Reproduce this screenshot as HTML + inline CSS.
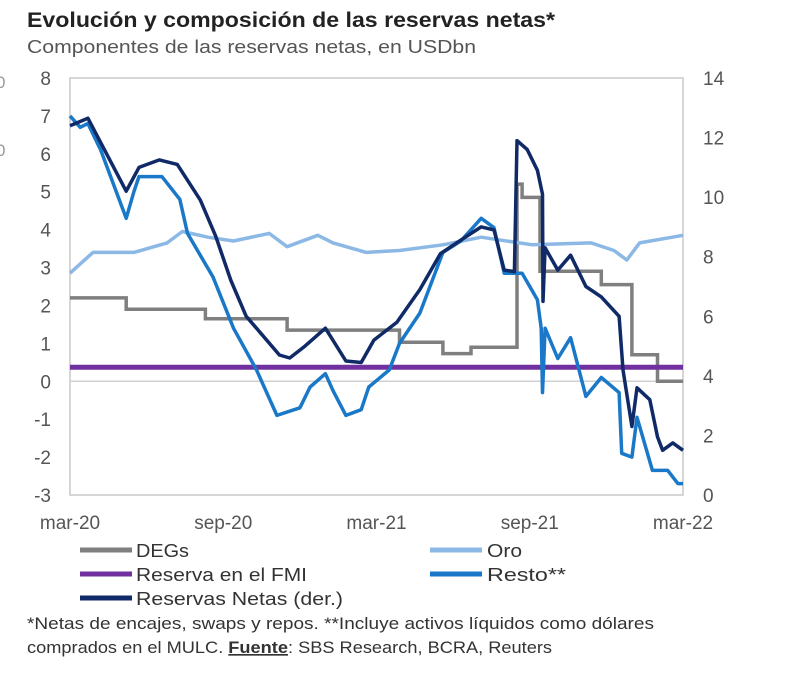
<!DOCTYPE html>
<html><head><meta charset="utf-8"><style>
body{margin:0;background:#fff;width:800px;height:682px;overflow:hidden;font-family:"Liberation Sans",sans-serif;}
svg text{font-family:"Liberation Sans",sans-serif;}
</style></head><body>
<svg id="c" width="800" height="682">
<text x="27" y="27" font-size="21" font-weight="bold" fill="#222" textLength="528" lengthAdjust="spacingAndGlyphs">Evolución y composición de las reservas netas*</text>
<text x="27" y="53" font-size="18" fill="#555" textLength="449" lengthAdjust="spacingAndGlyphs">Componentes de las reservas netas, en USDbn</text>
<text x="-4" y="88" font-size="17" fill="#999">0</text>
<text x="-4" y="156" font-size="17" fill="#999">0</text>
<g id="plot"></g>
<g>
<line x1="80" y1="550" x2="132" y2="550" stroke="#7f7f7f" stroke-width="5"/>
<text x="136" y="557" font-size="18.5" fill="#333" textLength="53" lengthAdjust="spacingAndGlyphs">DEGs</text>
<line x1="430" y1="550" x2="482" y2="550" stroke="#8cb8e6" stroke-width="5"/>
<text x="487" y="557" font-size="18.5" fill="#333" textLength="35" lengthAdjust="spacingAndGlyphs">Oro</text>
<line x1="80" y1="574" x2="132" y2="574" stroke="#7030a0" stroke-width="5"/>
<text x="136" y="581" font-size="18.5" fill="#333" textLength="171" lengthAdjust="spacingAndGlyphs">Reserva en el FMI</text>
<line x1="430" y1="574" x2="482" y2="574" stroke="#1a78c8" stroke-width="5"/>
<text x="487" y="581" font-size="18.5" fill="#333" textLength="79" lengthAdjust="spacingAndGlyphs">Resto**</text>
<line x1="80" y1="598" x2="132" y2="598" stroke="#0f2a66" stroke-width="5"/>
<text x="136" y="605" font-size="18.5" fill="#333" textLength="207" lengthAdjust="spacingAndGlyphs">Reservas Netas (der.)</text>
</g>
<text x="27" y="629" font-size="16.5" fill="#333" textLength="627" lengthAdjust="spacingAndGlyphs">*Netas de encajes, swaps y repos. **Incluye activos líquidos como dólares</text>
<text x="27" y="653" font-size="16.5" fill="#333" textLength="525" lengthAdjust="spacingAndGlyphs">comprados en el MULC. <tspan font-weight="bold" text-decoration="underline">Fuente</tspan>: SBS Research, BCRA, Reuters</text>
</svg>
<script>
const xLabels=["mar-20","sep-20","mar-21","sep-21","mar-22"];
const leftTicks=[8,7,6,5,4,3,2,1,0,-1,-2,-3];
const rightTicks=[14,12,10,8,6,4,2,0];
const fmiValue=0.37;
const degsMonths=[0,2.2,5.3,8.5,12.9,14.6,15.7,17.5,17.7,18.4,20.8,22.0,23.0];
const degsValues=[2.2,1.9,1.65,1.35,1.03,0.73,0.9,5.2,4.85,2.9,2.55,0.7,0.0];
const oroMonths=[0,0.9,2.5,3.8,4.4,5.4,6.4,7.8,8.5,9.7,10.3,11.6,12.9,14.6,16.1,18.1,20.4,21.3,21.8,22.3,24];
const oroValues=[2.85,3.4,3.4,3.65,3.95,3.8,3.7,3.9,3.55,3.85,3.65,3.4,3.45,3.6,3.8,3.6,3.65,3.45,3.2,3.65,3.85];
const restoMonths=[0,0.4,0.7,1.2,2.2,2.5,2.7,3.6,4.3,4.6,5.6,6.4,7.3,8.1,9.0,9.4,10.0,10.3,10.8,11.4,11.7,12.5,12.9,13.7,14.6,15.3,16.1,16.6,17.0,17.7,18.3,18.45,18.5,18.6,19.1,19.6,20.2,20.8,21.5,21.6,22.0,22.2,22.8,23.4,23.8,24];
const restoValues=[7.0,6.7,6.8,6.1,4.3,5.0,5.4,5.4,4.8,3.9,2.75,1.4,0.3,-0.9,-0.7,-0.15,0.2,-0.25,-0.9,-0.75,-0.15,0.3,1.0,1.8,3.4,3.7,4.3,4.05,2.85,2.85,2.15,1.4,-0.3,1.4,0.6,1.15,-0.4,0.1,-0.3,-1.9,-2.0,-0.95,-2.35,-2.35,-2.7,-2.7];
const netasMonths=[0,0.7,2.2,2.7,3.5,4.2,5.1,5.7,6.3,6.9,7.5,8.2,8.6,9.2,10.0,10.8,11.4,11.9,12.8,13.7,14.5,15.2,16.1,16.6,17.0,17.4,17.5,17.9,18.3,18.5,18.52,18.6,19.1,19.6,20.2,20.8,21.5,21.65,22.0,22.2,22.7,23.0,23.2,23.6,24];
const netasValues=[12.4,12.65,10.2,11.0,11.25,11.1,9.9,8.7,7.2,6.0,5.4,4.7,4.6,5.0,5.6,4.5,4.45,5.2,5.8,6.9,8.1,8.5,9.0,8.9,7.55,7.5,11.9,11.6,10.9,10.1,6.5,8.3,7.55,8.05,7.0,6.65,6.0,4.2,2.3,3.6,3.2,1.95,1.5,1.75,1.5];

const L=70,R=683,T=78,B=495;
const xs=m=>L+(R-L)*m/24;
const yl=v=>T+(8-v)*(B-T)/11;
const yr=v=>B-v*(B-T)/14;
const NS="http://www.w3.org/2000/svg";
const g=document.getElementById('plot');
function mk(t,a){const e=document.createElementNS(NS,t);for(const k in a)e.setAttribute(k,a[k]);g.appendChild(e);return e;}
const frame=mk('rect',{x:L,y:T,width:R-L,height:B-T,fill:'none',stroke:'#c8c8c8','stroke-width':1.5});


const zl=mk('line',{x1:L,x2:R,y1:yl(0),y2:yl(0),stroke:'#d0d0d0','stroke-width':1.5});


leftTicks.forEach(v=>{const t=mk('text',{x:51,y:yl(v)+7,'font-size':19,fill:'#555','text-anchor':'end'});t.textContent=v;

});
rightTicks.forEach(v=>{const t=mk('text',{x:703,y:yr(v)+7,'font-size':19,fill:'#555'});t.textContent=v;

});
xLabels.forEach((s,i)=>{const t=mk('text',{x:xs(i*6),y:529,'font-size':19,fill:'#555','text-anchor':'middle'});t.textContent=s;

});
function line(ms,vs,yf,col,w,name){let d='';ms.forEach((m,i)=>{d+=(i?'L':'M')+xs(m).toFixed(1)+','+yf(vs[i]).toFixed(1);});
const p=mk('path',{d:d,fill:'none',stroke:col,'stroke-width':w,'stroke-linejoin':'round'});

}
let d='';degsMonths.forEach((m,i)=>{const y=yl(degsValues[i]).toFixed(1);d+=(i?'L'+xs(m).toFixed(1)+','+yl(degsValues[i-1]).toFixed(1)+'L':'M')+xs(m).toFixed(1)+','+y;});
d+='L'+xs(24)+','+yl(degsValues[degsValues.length-1]).toFixed(1);
const dp=mk('path',{d:d,fill:'none',stroke:'#7f7f7f','stroke-width':3.5});


line(oroMonths,oroValues,yl,'#8cb8e6',3.5,'oro-line');
const fl=mk('line',{x1:L,x2:R,y1:yl(fmiValue),y2:yl(fmiValue),stroke:'#7030a0','stroke-width':5});


line(restoMonths,restoValues,yl,'#1a78c8',3.5,'resto-line');
line(netasMonths,netasValues,yr,'#0f2a66',3.5,'reservas-netas-line');
</script>
</body></html>
